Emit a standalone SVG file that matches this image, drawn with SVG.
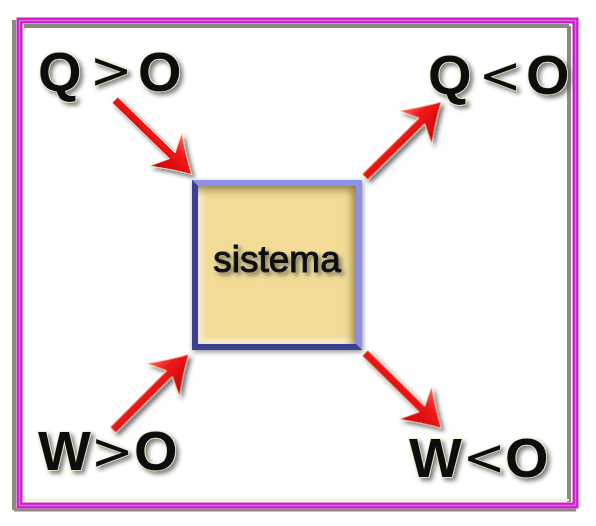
<svg xmlns="http://www.w3.org/2000/svg" width="596" height="526" viewBox="0 0 596 526">
  <style>
    .lbl { font-family: "Liberation Sans", Arial, sans-serif; font-weight: bold; font-size: 56px; fill: #111; stroke: #f3edc2; stroke-width: 1.6px; paint-order: stroke; }
    .sym { font-family: "DejaVu Sans", sans-serif; font-weight: normal; font-size: 51px; fill: #111; stroke: #f3edc2; stroke-width: 1.2px; paint-order: stroke; text-anchor: middle; }
    .box-txt { font-family: "Liberation Sans", Arial, sans-serif; font-size: 37px; fill: #111; stroke: #111; stroke-width: 1.1px; text-anchor: middle; }
  </style>
  <defs>
    <filter id="txtShadow" x="-20%" y="-20%" width="150%" height="160%">
      <feDropShadow dx="3" dy="3" stdDeviation="2" flood-color="#555" flood-opacity="0.75"/>
    </filter>
    <filter id="arrowShadow" x="-20%" y="-50%" width="150%" height="200%">
      <feDropShadow dx="3" dy="3" stdDeviation="2.2" flood-color="#222" flood-opacity="0.65"/>
    </filter>
    <filter id="boxShadow" x="-10%" y="-10%" width="125%" height="125%">
      <feDropShadow dx="1" dy="2" stdDeviation="2.5" flood-color="#444" flood-opacity="0.6"/>
    </filter>
    <filter id="bevel" x="-20%" y="-20%" width="140%" height="140%">
      <feFlood flood-color="#8c7434" result="dark"/>
      <feComposite in="dark" in2="SourceAlpha" operator="out" result="outside"/>
      <feGaussianBlur in="outside" stdDeviation="4" result="blurD"/>
      <feOffset in="blurD" dx="-4" dy="4" result="offD"/>
      <feComposite in="offD" in2="SourceAlpha" operator="in" result="innerD"/>
      <feFlood flood-color="#fffbe8" result="light"/>
      <feComposite in="light" in2="SourceAlpha" operator="out" result="outsideL"/>
      <feGaussianBlur in="outsideL" stdDeviation="3" result="blurL"/>
      <feOffset in="blurL" dx="3" dy="-3" result="offL"/>
      <feComposite in="offL" in2="SourceAlpha" operator="in" result="innerL"/>
      <feMerge>
        <feMergeNode in="SourceGraphic"/>
        <feMergeNode in="innerL"/>
        <feMergeNode in="innerD"/>
      </feMerge>
    </filter>
    <linearGradient id="redGrad" x1="0" y1="0" x2="0" y2="1">
      <stop offset="0" stop-color="#ff6a6a"/>
      <stop offset="0.35" stop-color="#f01818"/>
      <stop offset="1" stop-color="#c80008"/>
    </linearGradient>
    <g id="arrow">
      <path d="M0,-4 L80,-4 Q76,-12 71,-23 Q92,-8 107,0 Q92,8 71,23 Q76,12 80,4 L0,4 Z" fill="url(#redGrad)" stroke="#f6eec8" stroke-width="0.8"/>
    </g>
  </defs>

  <rect width="596" height="526" fill="#ffffff"/>

  <!-- frame -->
  <g id="frame">
    <line x1="14" y1="20" x2="14" y2="510" stroke="#8a8a80" stroke-width="4"/>
    <line x1="14" y1="510" x2="576" y2="510" stroke="#8a8a80" stroke-width="3"/>
    <line x1="24" y1="26" x2="569" y2="26" stroke="#8a8a80" stroke-width="4"/>
    <line x1="569" y1="26" x2="569" y2="502" stroke="#8a8a80" stroke-width="4"/>
    <line x1="24" y1="500" x2="569" y2="500" stroke="#f6f0cc" stroke-width="2"/>
    <rect x="19.5" y="20.5" width="556" height="485" fill="none" stroke="#c81ec8" stroke-width="6"/>
    <rect x="19.5" y="20.5" width="556" height="485" fill="none" stroke="#e066e6" stroke-width="1.5"/>
  </g>

  <!-- connectors -->
  <g id="connectors" filter="url(#arrowShadow)">
    <use href="#arrow" transform="translate(115,100) rotate(44.2)"/>
    <use href="#arrow" transform="translate(365,177) rotate(-44.6)"/>
    <use href="#arrow" transform="translate(113,430) rotate(-45)"/>
    <use href="#arrow" transform="translate(365,353) rotate(44.6)"/>
  </g>

  <!-- system node -->
  <g id="sistema">
    <rect x="192" y="180" width="170" height="170" fill="#5a5fc0" filter="url(#boxShadow)"/>
    <path d="M192,180 L362,180 L362,350 L356,344 L356,186 L198,186 Z" fill="#8c90e6"/>
    <path d="M192,180 L198,186 L198,344 L356,344 L362,350 L192,350 Z" fill="#3c3f94"/>
    <rect x="198" y="186" width="158" height="158" fill="#f2dc96" filter="url(#bevel)"/>
    <text class="box-txt" x="277" y="272" filter="url(#txtShadow)">sistema</text>
  </g>

  <!-- labels -->
  <g id="q-pos" filter="url(#txtShadow)">
    <text class="lbl" x="38" y="91">Q</text>
    <text class="sym" x="111" y="88">&gt;</text>
    <text class="lbl" x="138" y="91">O</text>
  </g>
  <g id="q-neg" filter="url(#txtShadow)">
    <text class="lbl" x="428" y="94">Q</text>
    <text class="sym" x="500" y="93">&lt;</text>
    <text class="lbl" x="526" y="94">O</text>
  </g>
  <g id="w-pos" filter="url(#txtShadow)">
    <text class="lbl" x="38" y="470">W</text>
    <text class="sym" x="112" y="469">&gt;</text>
    <text class="lbl" x="134" y="470">O</text>
  </g>
  <g id="w-neg" filter="url(#txtShadow)">
    <text class="lbl" x="409" y="477">W</text>
    <text class="sym" x="484" y="475">&lt;</text>
    <text class="lbl" x="505" y="477">O</text>
  </g>
</svg>
